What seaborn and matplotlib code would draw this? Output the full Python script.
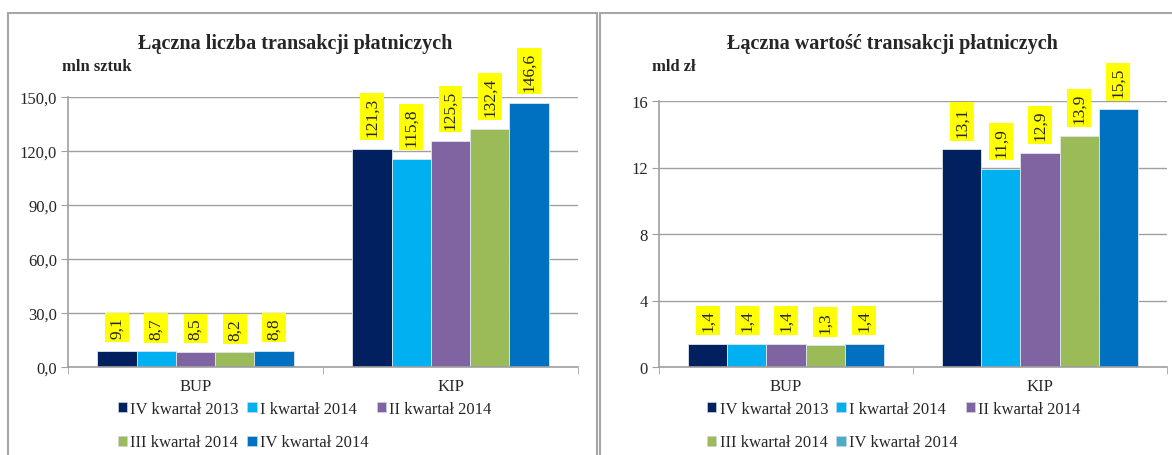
import matplotlib
matplotlib.use('Agg')
import matplotlib.pyplot as plt
from matplotlib.patches import Patch, Rectangle
from matplotlib.ticker import FuncFormatter
import pandas as pd
import seaborn as sns

# data
CATEGORIES = ['BUP', 'KIP']
QUARTERS = ['IV kwartał 2013', 'I kwartał 2014', 'II kwartał 2014',
            'III kwartał 2014', 'IV kwartał 2014']
COUNT_BUP = [9.1, 8.7, 8.5, 8.2, 8.8]
COUNT_KIP = [121.3, 115.8, 125.5, 132.4, 146.6]
VALUE_BUP = [1.4, 1.4, 1.4, 1.3, 1.4]
VALUE_KIP = [13.1, 11.9, 12.9, 13.9, 15.5]
COUNT_TICKS = [0, 30, 60, 90, 120, 150]
VALUE_TICKS = [0, 4, 8, 12, 16]

BAR_COLORS = ['#002060', '#00B0F0', '#8064A2', '#9BBB59', '#0070C0']
LEGEND_COLORS_LEFT = BAR_COLORS
LEGEND_COLORS_RIGHT = ['#002060', '#00B0F0', '#8064A2', '#9BBB59', '#4BACC6']
GREY = '#a0a0a0'

sns.set_style('white')
plt.rcParams['font.family'] = ['Liberation Serif', 'DejaVu Serif']


def make_df(bup, kip):
    rows = []
    for q, b, k in zip(QUARTERS, bup, kip):
        rows.append({'cat': 'BUP', 'quarter': q, 'val': b})
        rows.append({'cat': 'KIP', 'quarter': q, 'val': k})
    return pd.DataFrame(rows)


def comma(v, decimals):
    return f"{v:.{decimals}f}".replace('.', ',')


def draw_panel(ax, df, ticks, tick_dec, legend_colors, legend_x):
    sns.barplot(data=df, x='cat', y='val', hue='quarter', order=CATEGORIES,
                hue_order=QUARTERS, palette=BAR_COLORS, saturation=1,
                width=0.77, errorbar=None, legend=False, edgecolor='#dfe6ee',
                linewidth=0.6, ax=ax)
    for cont in ax.containers:
        labels = [comma(b.get_height(), 1) for b in cont]
        ax.bar_label(cont, labels=labels, padding=9, rotation=90,
                     fontsize=12.5, bbox=dict(boxstyle='square,pad=0.22',
                                              facecolor='#FFFF00', edgecolor='none'))
    ax.set_ylim(ticks[0], ticks[-1])
    ax.set_yticks(ticks)
    ax.yaxis.set_major_formatter(FuncFormatter(lambda v, p: comma(v, tick_dec)))
    ax.set_xlim(-0.5, 1.5)
    ax.set_xticks([-0.5, 0.5, 1.5], minor=True)
    ax.yaxis.grid(True, color=GREY, linewidth=1)
    ax.set_axisbelow(True)
    for s in ['top', 'right']:
        ax.spines[s].set_visible(False)
    for s in ['left', 'bottom']:
        ax.spines[s].set_color(GREY)
        ax.spines[s].set_linewidth(1.2)
    ax.tick_params(axis='y', direction='out', length=5, color=GREY,
                   labelsize=12, pad=3, left=True)
    ax.tick_params(axis='x', which='major', length=0, labelsize=12, pad=8)
    ax.tick_params(axis='x', which='minor', direction='out', length=5,
                   color=GREY, bottom=True)
    ax.set_xlabel('')
    ax.set_ylabel('')

    handles = [Patch(facecolor=c, edgecolor='#c8d4e3', linewidth=0.5)
               for c in legend_colors]
    order = [0, 3, 1, 4, 2]
    ax.legend([handles[i] for i in order], [QUARTERS[i] for i in order],
              ncol=3, loc='upper left', frameon=False, fontsize=12,
              bbox_to_anchor=(legend_x, 1 - 402 / 456),
              bbox_transform=ax.figure.transFigure, borderaxespad=0,
              borderpad=0, handlelength=0.55, handleheight=0.55,
              handletextpad=0.2, columnspacing=0.5, labelspacing=1.05)


fig = plt.figure(figsize=(11.72, 4.56), dpi=100)
W, H = 1172, 456

ax1 = fig.add_axes([68 / W, 1 - 368 / H, (578 - 68) / W, (368 - 98) / H])
ax2 = fig.add_axes([659 / W, 1 - 368 / H, (1167 - 659) / W, (368 - 102) / H])

draw_panel(ax1, make_df(COUNT_BUP, COUNT_KIP), COUNT_TICKS, 1,
           LEGEND_COLORS_LEFT, 118 / W)
draw_panel(ax2, make_df(VALUE_BUP, VALUE_KIP), VALUE_TICKS, 0,
           LEGEND_COLORS_RIGHT, 707 / W)

# panel frames
fig.patches.append(Rectangle((8 / W, -0.2), (597 - 8) / W, 0.2 + 1 - 14 / H,
                             transform=fig.transFigure, fill=False,
                             edgecolor='#a6a6a6', linewidth=1.5))
fig.patches.append(Rectangle((600 / W, -0.2), 0.6, 0.2 + 1 - 14 / H,
                             transform=fig.transFigure, fill=False,
                             edgecolor='#a6a6a6', linewidth=1.5))

fig.text(295 / W, 1 - 44 / H, 'Łączna liczba transakcji płatniczych',
         ha='center', va='center', fontsize=14.5, fontweight='bold')
fig.text(62 / W, 1 - 67 / H, 'mln sztuk', ha='left', va='center',
         fontsize=12, fontweight='bold')
fig.text(892 / W, 1 - 44 / H, 'Łączna wartość transakcji płatniczych',
         ha='center', va='center', fontsize=14.5, fontweight='bold')
fig.text(652 / W, 1 - 67 / H, 'mld zł', ha='left', va='center',
         fontsize=12, fontweight='bold')

fig.savefig('out.png', dpi=100)
